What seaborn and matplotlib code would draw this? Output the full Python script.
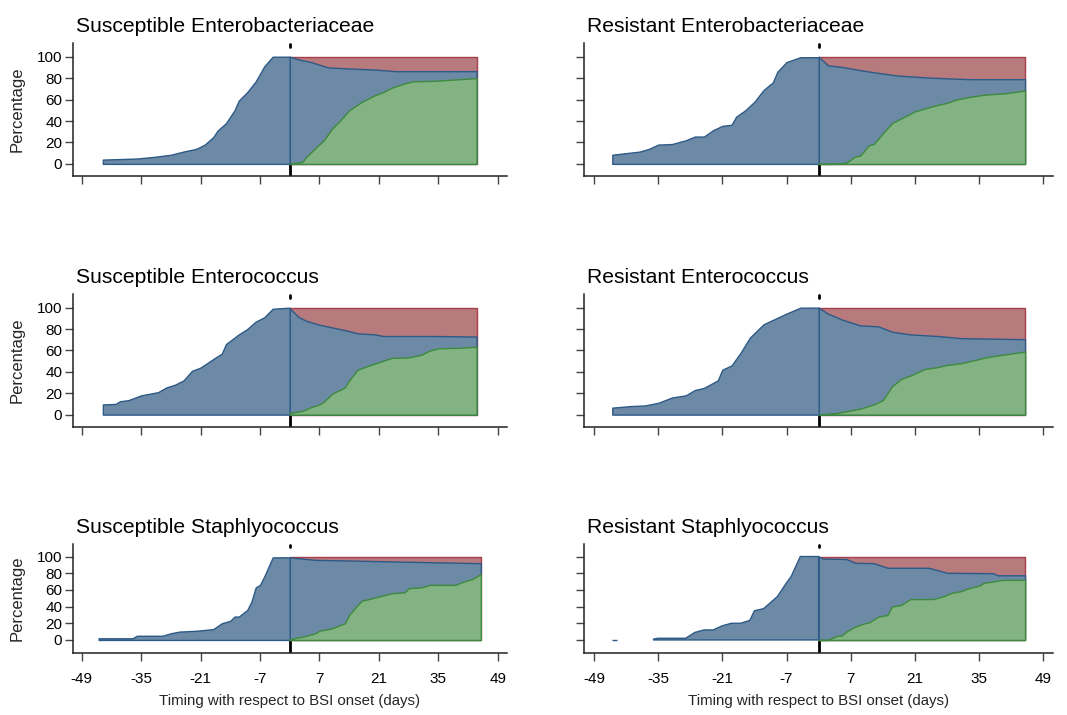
import numpy as np
import matplotlib
matplotlib.use('Agg')
import matplotlib.pyplot as plt
import seaborn as sns

# Panel titles
titles = ['Susceptible Enterobacteriaceae', 'Resistant Enterobacteriaceae',
          'Susceptible Enterococcus', 'Resistant Enterococcus',
          'Susceptible Staphlyococcus', 'Resistant Staphlyococcus']

# --- Susceptible Enterobacteriaceae
se_pre_day = [-44, -40, -36, -32, -28, -25, -22, -20, -18, -17, -15, -13, -12, -10, -8, -6, -4, 0]
se_pre_pct = [4, 4.5, 5, 6.5, 8.5, 11.5, 14, 18, 25, 31, 38, 50, 59, 67, 77, 91, 100, 100]
se_blue_day = [0, 2, 5, 9, 14, 20, 25, 34, 44]
se_blue_pct = [100, 97.5, 95, 90, 89, 88, 86.5, 86.5, 86.5]
se_green_day = [0, 3, 4, 6, 8, 10, 12, 14, 17, 20, 22, 24, 27, 29, 34, 40, 44]
se_green_pct = [0, 2, 7, 14.5, 22, 33, 41, 50, 58, 64, 67, 71, 75, 77, 77.5, 79, 80]

# --- Resistant Enterobacteriaceae
re_pre_day = [-45, -42, -39, -37, -35, -32, -29, -27, -25, -23, -21, -19, -18, -16, -14, -12, -10, -9, -7, -4, 0]
re_pre_pct = [8.5, 10, 11.5, 14, 18, 18.5, 22, 25.5, 25.5, 31.5, 35.5, 36.5, 44, 50, 58, 69, 76, 86, 95, 99.5, 99.5]
re_blue_day = [0, 2, 5, 9, 12, 17, 24, 33, 45]
re_blue_pct = [100, 92, 90.5, 87.5, 85.5, 82.5, 80.5, 79, 79]
re_green_day = [0, 3, 6, 8, 9, 11, 12, 14, 16, 18, 21, 25, 28, 30, 33, 36, 41, 45]
re_green_pct = [0, 0, 1, 7, 7.5, 17.5, 18.5, 28.5, 38, 42.5, 49, 54, 57, 60, 62.5, 64.5, 66, 68.5]

# --- Susceptible Enterococcus
sec_pre_day = [-44, -41, -40, -38, -35, -33, -31, -29, -27, -25, -23, -21, -18, -16, -15, -12, -10, -8, -6, -4, 0]
sec_pre_pct = [9.5, 10, 12.5, 13.5, 18, 19.5, 21, 25.5, 28, 32, 41, 44, 52, 57, 66, 75, 80, 87, 91, 99, 100]
sec_blue_day = [0, 2, 4, 7, 10, 13, 16, 20, 22, 34, 44]
sec_blue_pct = [99.5, 91.5, 87.5, 84, 81.5, 79, 76, 75, 73.5, 73.5, 73]
sec_green_day = [0, 3, 5, 7, 8, 10, 13, 14, 16, 18, 21, 24, 28, 31, 33, 35, 40, 44]
sec_green_pct = [1.5, 3.5, 7, 9.5, 12, 19.5, 25.5, 32, 42, 45, 49, 53, 53.5, 56, 60, 62, 62.5, 63.5]

# --- Resistant Enterococcus
rec_pre_day = [-45, -41, -38, -35, -32, -29, -27, -25, -22, -21, -19, -17, -15, -12, -9, -7, -4, 0]
rec_pre_pct = [6.5, 8, 8.5, 11, 16, 18, 23, 25, 32, 42, 46, 58, 72, 84.5, 90.5, 94.5, 100, 100]
rec_blue_day = [0, 2, 5, 9, 13, 16, 20, 26, 31, 45]
rec_blue_pct = [100, 94.5, 89, 83.5, 82.5, 77.5, 75, 73.5, 71.5, 70.5]
rec_green_day = [0, 4, 9, 12, 14, 16, 18, 20, 23, 26, 28, 31, 34, 37, 41, 45]
rec_green_pct = [0, 1.5, 5.5, 9.5, 13.5, 26.5, 33.5, 36.5, 42.5, 44.5, 46.5, 48, 51, 54, 56.5, 59]

# --- Susceptible Staphlyococcus
ss_pre_day = [-45, -37, -36, -30, -28, -26, -22, -20, -18, -16, -14, -13, -12, -10, -9, -8, -7, -6, -4, 0]
ss_pre_pct = [2, 2, 5, 5, 8, 10, 11, 12, 13, 20, 23, 28, 28, 36, 46, 63, 66, 76, 99, 99]
ss_blue_day = [0, 2, 6, 16, 25, 45]
ss_blue_pct = [99, 98, 96, 95, 94, 92]
ss_green_day = [0, 4, 6, 7, 10, 13, 14, 16, 17, 21, 24, 27, 28, 31, 33, 39, 41, 43, 45]
ss_green_pct = [1, 5, 8, 11, 14, 20, 30, 42, 47, 52, 56, 57, 62, 63, 66, 66, 70, 73, 79]

# --- Resistant Staphlyococcus
rs_pre_day = [-45, -44, -43, -36, -35, -29, -27, -25, -23, -21, -19, -17, -15, -14, -12, -9, -7, -6, -4, 0]
rs_pre_pct = [0.3, 0.3, np.nan, 1, 2, 2, 9, 12, 12, 17, 20, 20, 23.5, 35, 37.5, 52, 68.5, 76, 100, 100]
rs_blue_day = [0, 1, 6, 8, 12, 15, 24, 28, 38, 39, 45]
rs_blue_pct = [100, 97.5, 97, 92.5, 92, 86.5, 86.5, 80.5, 80, 77.5, 77.5]
rs_green_day = [0, 2, 4, 5, 6, 8, 10, 11, 13, 15, 16, 18, 20, 25, 27, 29, 31, 33, 35, 36, 38, 40, 45]
rs_green_pct = [0, 0, 5, 5, 10, 16, 20, 21, 28, 30, 40, 42, 49, 49, 52, 56.5, 58.5, 62.5, 65, 68.5, 70, 72, 72]

panels = [
    (se_pre_day, se_pre_pct, se_blue_day, se_blue_pct, se_green_day, se_green_pct),
    (re_pre_day, re_pre_pct, re_blue_day, re_blue_pct, re_green_day, re_green_pct),
    (sec_pre_day, sec_pre_pct, sec_blue_day, sec_blue_pct, sec_green_day, sec_green_pct),
    (rec_pre_day, rec_pre_pct, rec_blue_day, rec_blue_pct, rec_green_day, rec_green_pct),
    (ss_pre_day, ss_pre_pct, ss_blue_day, ss_blue_pct, ss_green_day, ss_green_pct),
    (rs_pre_day, rs_pre_pct, rs_blue_day, rs_blue_pct, rs_green_day, rs_green_pct),
]

x_ticks = list(range(-49, 50, 14))
y_ticks = [0, 20, 40, 60, 80, 100]

blue_fill, blue_edge = '#6c89a5', '#2d5a87'
red_fill, red_edge = '#b77a7d', '#a8404c'
green_fill, green_edge = '#83b383', '#3d8b3d'

sns.set_theme(style='ticks')
plt.rcParams['font.family'] = ['Liberation Sans', 'DejaVu Sans']
plt.rcParams['axes.unicode_minus'] = False

W, H = 1067, 715
fig = plt.figure(figsize=(W / 100, H / 100), dpi=100)

# axes boxes in pixels: (left, right) per column, (top, bottom) per row
cols = [(72.7, 506.7), (584.3, 1053)]
rows = [(43.3, 176), (294.3, 426.7), (544, 653.3)]
ylims = [(-11.3, 112.5), (-11.3, 112.5), (-16, 115)]

for i, (pre_d, pre_p, b_d, b_p, g_d, g_p) in enumerate(panels):
    r, c = divmod(i, 2)
    x0, x1 = cols[c]
    t, b = rows[r]
    ax = fig.add_axes([x0 / W, 1 - b / H, (x1 - x0) / W, (b - t) / H])
    ylo, yhi = ylims[r]

    # onset line (drawn under the areas)
    ax.vlines(0, ylo, 100, color='black', lw=2, zorder=1)
    ax.axvline(0, ymin=0.975, ymax=0.995, color='black', lw=2, zorder=1)

    end = b_d[-1]
    ax.fill_between([0, end], 0, 100, facecolor=red_fill, edgecolor=red_edge, lw=1, zorder=2)
    ax.fill_between(b_d, 0, b_p, facecolor=blue_fill, edgecolor=blue_edge, lw=1, zorder=3)
    ax.fill_between(g_d, 0, g_p, facecolor=green_fill, edgecolor=green_edge, lw=1, zorder=4)
    ax.fill_between(pre_d, 0, pre_p, facecolor=blue_fill, edgecolor=blue_edge, lw=1, zorder=3)

    ax.set_xlim(-51.1, 51.1)
    ax.set_ylim(ylo, yhi)
    ax.set_xticks(x_ticks)
    ax.set_yticks(y_ticks)
    sns.despine(ax=ax)
    for s in ['left', 'bottom']:
        ax.spines[s].set_color('#222222')
        ax.spines[s].set_linewidth(1.1)
    ax.tick_params(axis='both', direction='out', length=6, width=1, color='#444444',
                   labelsize=11, labelcolor='black')
    ax.tick_params(axis='y', pad=1.5)
    ax.tick_params(axis='x', pad=7.5)

    if r < 2:
        ax.set_xticklabels([])
    else:
        ax.set_xlabel('Timing with respect to BSI onset (days)', fontsize=10.8, labelpad=6)
    if c == 1:
        ax.set_yticklabels([])
    else:
        ax.set_ylabel('Percentage', fontsize=12)
        ax.yaxis.set_label_coords((25 - x0) / (x1 - x0), 0.5)

    fig.text((x0 + 3) / W, 1 - (t - 11) / H, titles[i], fontsize=15.2,
             ha='left', va='baseline', color='black')

plt.savefig('out.png', dpi=100)
plt.close()
